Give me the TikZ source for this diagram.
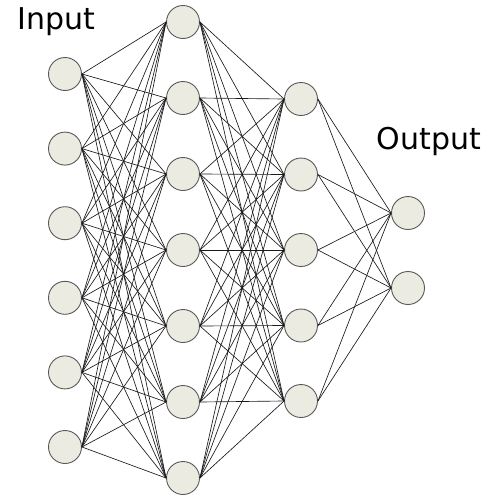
\documentclass[tikz,border=0pt]{standalone}
\usepackage{fontspec}
\setmainfont{DejaVu Sans}
\usetikzlibrary{positioning}
\definecolor{cellfill}{HTML}{ECEBE2}

\begin{document}
\begin{tikzpicture}[
	x=1pt,y=-1pt,
	neuron/.style={
		circle,draw=black!65,fill=cellfill,
		minimum size=33pt,inner sep=0pt,
		line width=0.9pt,
	},
	synapse/.style={draw=black!90,line width=0.65pt},
	layername/.style={font=\fontsize{30}{34}\selectfont,inner sep=0pt}
]
\useasboundingbox (0,0) rectangle (485,498);
% layers
\foreach \i in {1,...,6}
	\node [neuron] (in\i) at (65,{74+74.6*(\i-1)}) {};
\foreach \i in {1,...,7}
	\node [neuron] (hA\i) at (183,{22+76*(\i-1)}) {};
\foreach \i in {1,...,5}
	\node [neuron] (hB\i) at (301,{99+75.5*(\i-1)}) {};
\foreach \i in {1,2}
	\node [neuron] (out\i) at (408,{213+75*(\i-1)}) {};
% connections
\foreach \i in {1,...,6}
	\foreach \j in {1,...,7}
		\draw [synapse] (in\i.east) -- (hA\j.west);
\foreach \i in {1,...,7}
	\foreach \j in {1,...,5}
		\draw [synapse] (hA\i.east) -- (hB\j.west);
\foreach \i in {1,...,5}
	\foreach \j in {1,2}
		\draw [synapse] (hB\i.east) -- (out\j.west);
% labels
\node [layername] (inlabel) at (56,22) {Input};
\node [layername] (outlabel) at (429,141) {Output};
\end{tikzpicture}
\end{document}
